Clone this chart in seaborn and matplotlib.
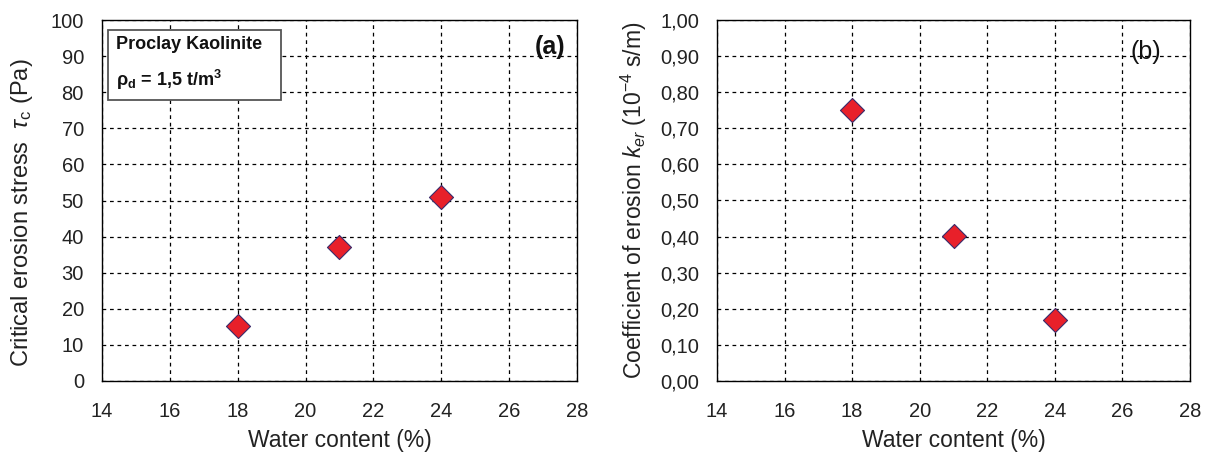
import numpy as np
import pandas as pd
import seaborn as sns
import matplotlib.pyplot as plt
from matplotlib.ticker import FuncFormatter, MultipleLocator

# values
water = [18, 21, 24]
tau_c = [15.3, 37.2, 51.0]
k_er = [0.752, 0.403, 0.170]

sns.set_theme(style="white")
plt.rcParams['font.family'] = ['Liberation Sans', 'DejaVu Sans']
plt.rcParams['mathtext.fontset'] = 'custom'
plt.rcParams['mathtext.rm'] = 'Liberation Sans'
plt.rcParams['mathtext.it'] = 'Liberation Sans:italic'
plt.rcParams['mathtext.bf'] = 'Liberation Sans:bold'

df = pd.DataFrame({'w': water, 'tau': tau_c, 'k': k_er})

fig = plt.figure(figsize=(12.1, 4.59), dpi=100)
ax1 = fig.add_axes([102 / 1210, 1 - 381 / 459, 475 / 1210, 361 / 459])
ax2 = fig.add_axes([717 / 1210, 1 - 381 / 459, 473 / 1210, 361 / 459])

mk = dict(marker='D', s=150, color='#e8202a', edgecolor='#3a2a6a', linewidth=0.8, zorder=5)
sns.scatterplot(data=df, x='w', y='tau', ax=ax1, **mk)
sns.scatterplot(data=df, x='w', y='k', ax=ax2, **mk)

for ax in (ax1, ax2):
    ax.set_xlim(14, 28)
    ax.xaxis.set_major_locator(MultipleLocator(2))
    ax.grid(True, color='black', linestyle=(0, (3, 3)), linewidth=0.9)
    for s in ax.spines.values():
        s.set_color('black')
        s.set_linewidth(1.0)
    ax.tick_params(axis='both', which='major', direction='inout', length=8,
                   width=1, color='black', labelsize=14.5, labelcolor='#222222')
    ax.tick_params(axis='x', pad=11)
    ax.tick_params(axis='y', pad=9)
    ax.set_xlabel('Water content (%)', fontsize=16.5, labelpad=6, color='#222222')

ax1.set_ylim(0, 100)
ax1.yaxis.set_major_locator(MultipleLocator(10))
ax1.set_ylabel(r'Critical erosion stress  $\mathit{\tau}_{\rm c}$ (Pa)', fontsize=17,
               color='#222222')
ax1.yaxis.set_label_coords(-0.142, 0.465)

ax2.set_ylim(0, 1.0)
ax2.yaxis.set_major_locator(MultipleLocator(0.1))
ax2.yaxis.set_major_formatter(FuncFormatter(lambda v, p: f'{v:.2f}'.replace('.', ',')))
ax2.set_ylabel(r'Coefficient of erosion $\mathit{k}_{\mathit{er}}$ (10$^{-4}$ s/m)', fontsize=16.5,
               color='#222222', labelpad=8)

ax1.text(0.03, 0.955, 'Proclay Kaolinite  \n' + r'$\mathbf{\rho_d}$ = 1,5 t/m$^\mathbf{3}$',
         transform=ax1.transAxes, ha='left', va='top', fontsize=13, fontweight='bold',
         linespacing=1.8, zorder=6, color='#111111',
         bbox=dict(boxstyle='square,pad=0.45', facecolor='white', edgecolor='#555555', linewidth=1.3))
ax1.text(0.975, 0.925, '(a)', transform=ax1.transAxes, ha='right', va='center',
         fontsize=18, fontweight='bold', color='#111111')
ax2.text(0.907, 0.91, '(b)', transform=ax2.transAxes, ha='center', va='center',
         fontsize=18, color='#111111')

fig.savefig('out.png', dpi=100)
